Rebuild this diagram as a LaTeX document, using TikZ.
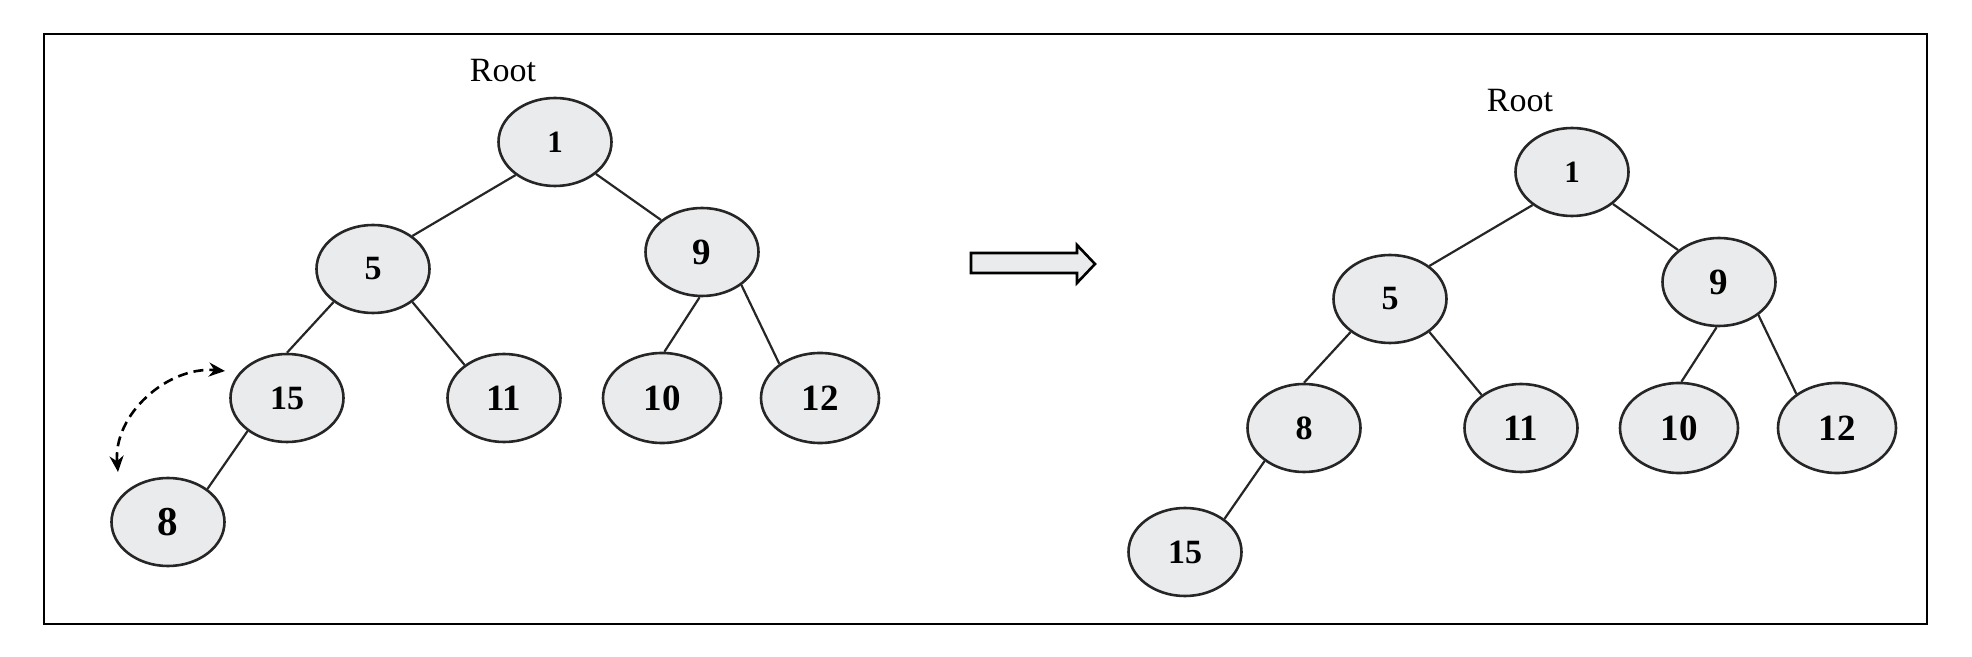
\documentclass[tikz,border=0pt]{standalone}
\usepackage{fontspec}
\setmainfont{Liberation Serif}
\usetikzlibrary{arrows.meta, shapes.geometric}
\tikzset{>={Stealth[length=8pt,width=7pt]}}
\definecolor{nodegray}{RGB}{233,235,236}
\tikzset{
  heap/.style={ellipse, draw=black!85, fill=nodegray, line width=1.3pt, minimum width=56.5pt, minimum height=44pt, inner sep=0pt, font=\bfseries\fontsize{17}{19}\selectfont},
  big/.style={font=\bfseries\fontsize{18.5}{20}\selectfont},
  small/.style={font=\bfseries\fontsize{15.5}{17}\selectfont},
  wide/.style={minimum width=59pt, minimum height=45pt},
  rootlabel/.style={font=\fontsize{17}{19}\selectfont},
  edge/.style={line width=1.1pt, draw=black!85}
}

\begin{document}
\begin{tikzpicture}[x=0.5pt,y=-0.5pt]
\useasboundingbox (0,0) rectangle (1972,657);
\draw[line width=1.3pt] (44,34) rectangle (1927,624);
% before
\node[rootlabel] (Lroot) at (503,71) {Root};
\node[heap,small] (La) at (555,142) {1};
\node[heap] (Lb) at (373,269) {5};
\node[heap,big] (Lc) at (702,252) {9};
\node[heap] (Ld) at (287,398) {15};
\node[heap,big] (Le) at (504,398) {11};
\node[heap,big,wide] (Lf) at (662,398) {10};
\node[heap,big,wide] (Lg) at (820,398) {12};
\node[heap,font=\bfseries\fontsize{20.5}{22}\selectfont] (Lh) at (168,522) {8};
% after
\begin{scope}[shift={(1017,30)}]
\node[rootlabel] (Rroot) at (503,71) {Root};
\node[heap,small] (Ra) at (555,142) {1};
\node[heap] (Rb) at (373,269) {5};
\node[heap,big] (Rc) at (702,252) {9};
\node[heap] (Rd) at (287,398) {8};
\node[heap,big] (Re) at (504,398) {11};
\node[heap,big,wide] (Rf) at (662,398) {10};
\node[heap,big,wide] (Rg) at (820,398) {12};
\node[heap] (Rh) at (168,522) {15};
\end{scope}
\foreach \t in {L,R}
\foreach \a/\b in {a.220/b.40, a.-38/c.142, b.220/d.north, b.-40/e.140, c.-93/f.87, c.-40/g.140, d.220/h.40}
\draw[edge] (\t\a) -- (\t\b);
% swap
\coordinate (swapA) at ([shift={(-50,-50)}]Lh);
\coordinate (swapB) at ([shift={(-62,-27)}]Ld);
\draw[<->, line width=1.3pt, dash pattern=on 5pt off 3pt] (swapA) to[out=95,in=175] (swapB);
\draw[line width=1.3pt, fill=nodegray, line join=miter] (971,253) -- (1077,253) -- (1077,245) -- (1095,264) -- (1077,283) -- (1077,273) -- (971,273) -- cycle;
\end{tikzpicture}
\end{document}
